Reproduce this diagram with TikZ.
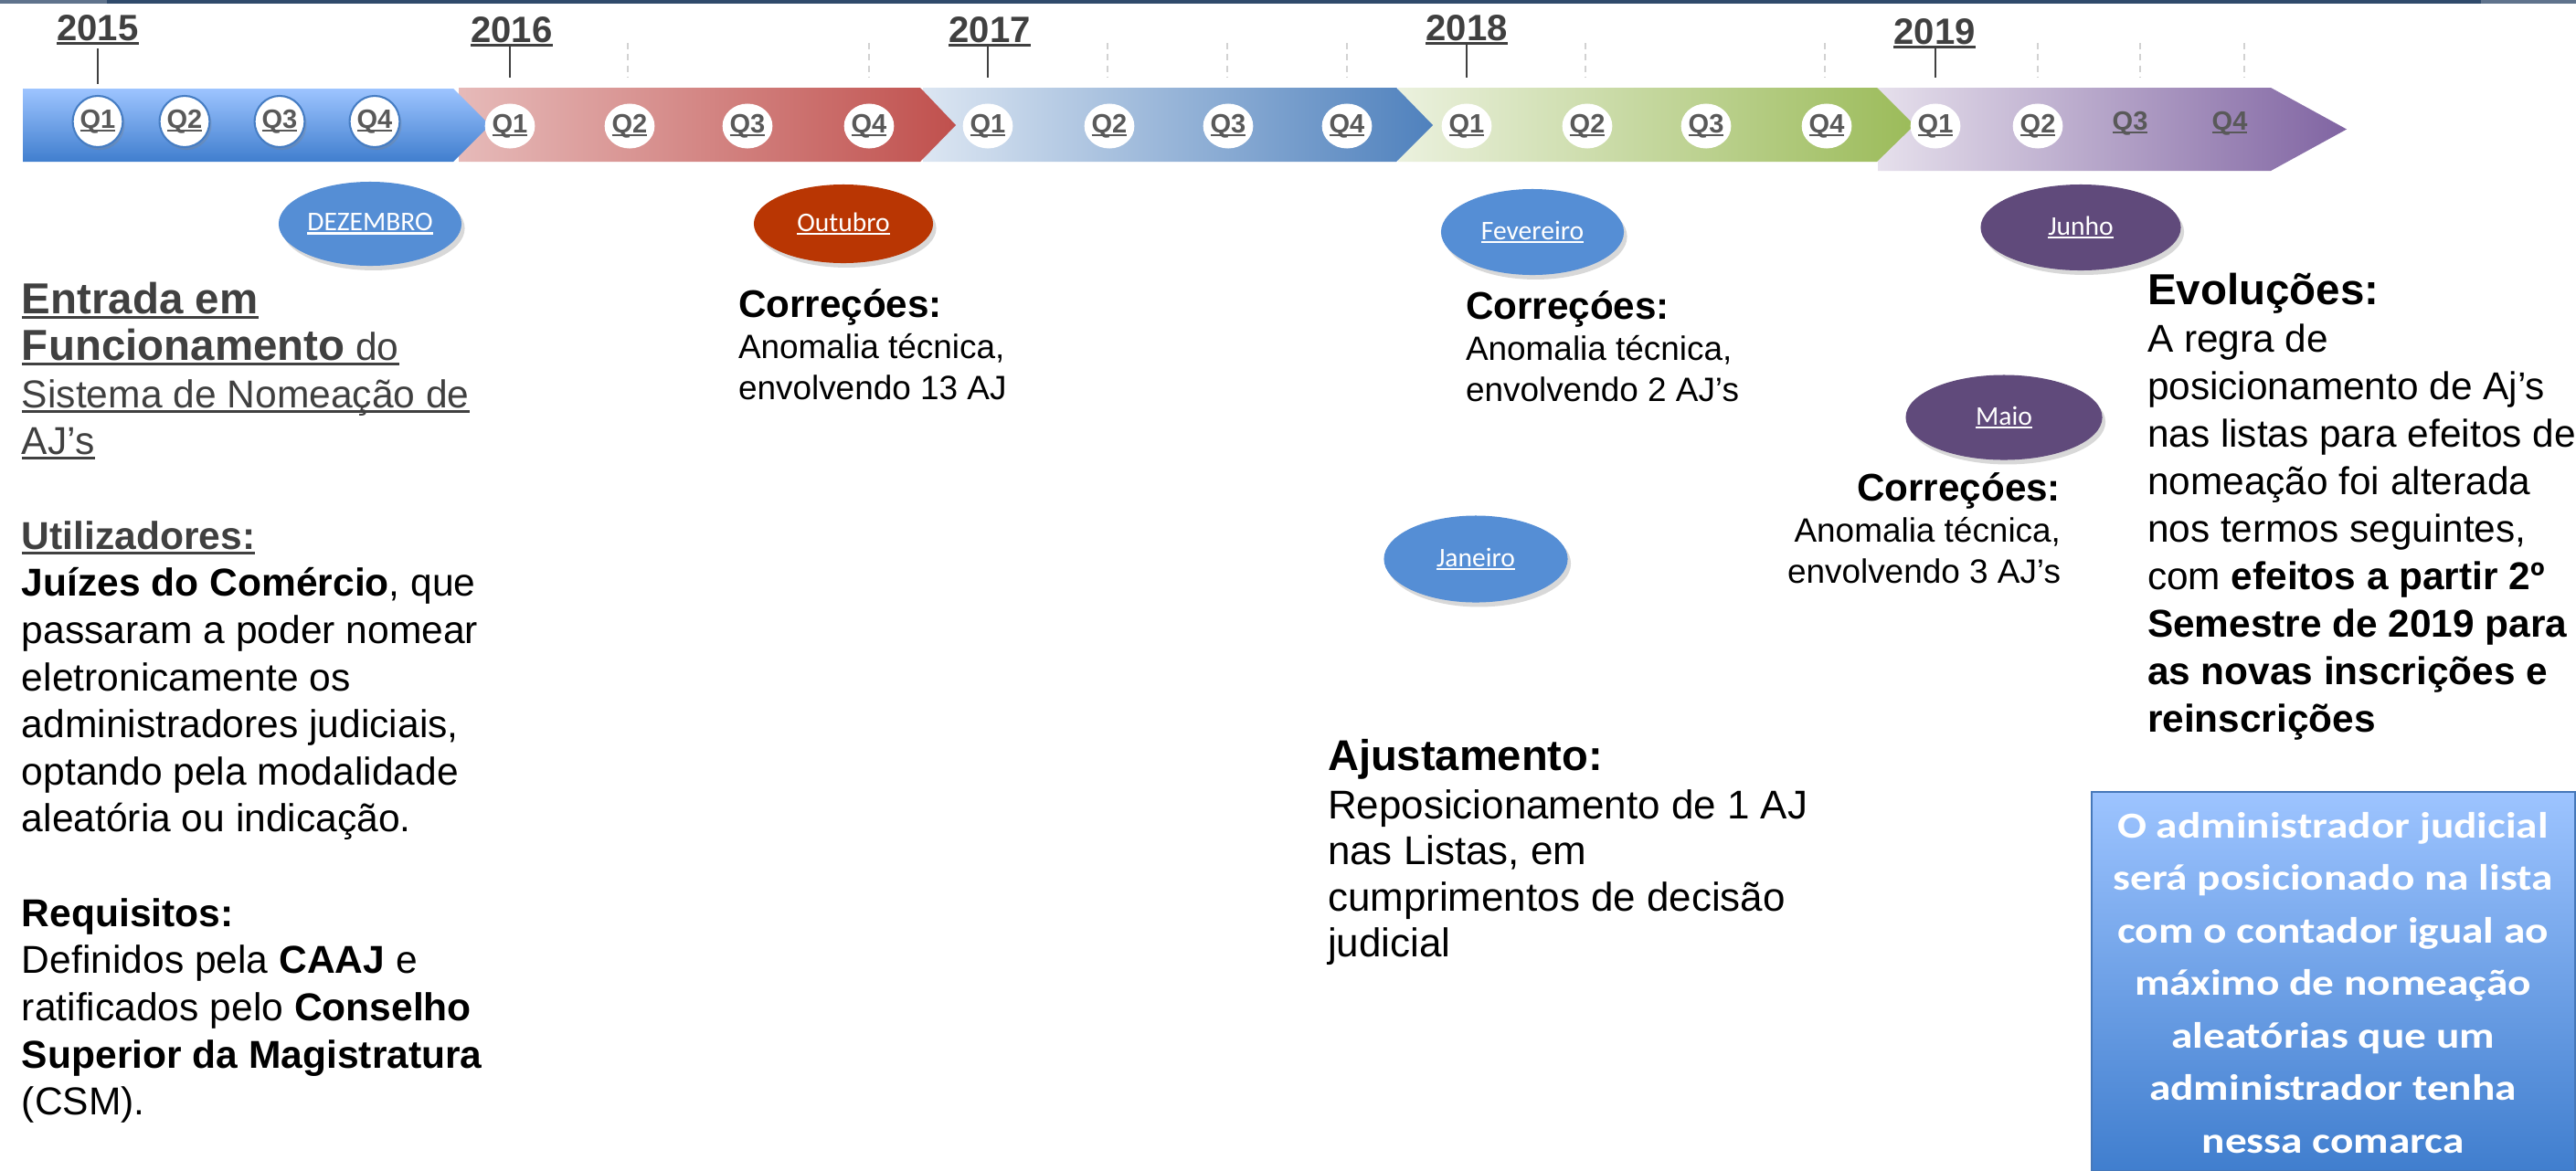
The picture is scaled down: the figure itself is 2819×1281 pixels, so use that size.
\documentclass[tikz,border=0pt]{standalone}
\usepackage{fontspec}
\setmainfont{Liberation Sans}
\newfontfamily\calib{Carlito}
\newfontfamily\boxfont{Carlito}[FakeStretch=1.18]
\usetikzlibrary{shapes.geometric,shadows}

\definecolor{navy}{RGB}{47,74,107}
\definecolor{navylt}{RGB}{95,115,140}
\definecolor{txtgray}{RGB}{64,64,64}
\definecolor{qgray}{RGB}{89,89,89}
\definecolor{tickgray}{RGB}{210,210,210}
\definecolor{mblue}{RGB}{85,142,213}
\definecolor{morange}{RGB}{185,54,3}
\definecolor{mpurple}{RGB}{96,74,123}
\definecolor{sAtop}{RGB}{157,196,255}
\definecolor{sAbot}{RGB}{64,126,206}
\definecolor{sBl}{RGB}{230,186,185}
\definecolor{sBm}{RGB}{220,165,164}
\definecolor{sBr}{RGB}{192,80,77}
\definecolor{sCl}{RGB}{220,230,242}
\definecolor{sCm}{RGB}{180,198,226}
\definecolor{sCr}{RGB}{79,129,189}
\definecolor{sDl}{RGB}{235,241,222}
\definecolor{sDm}{RGB}{215,228,192}
\definecolor{sDr}{RGB}{155,187,89}
\definecolor{sEl}{RGB}{230,224,236}
\definecolor{sEm}{RGB}{200,188,215}
\definecolor{sEr}{RGB}{128,100,162}
\definecolor{qborder}{RGB}{70,125,195}
\definecolor{boxborder}{RGB}{70,120,185}

\newcommand\fs[2]{\fontsize{#1}{#2}\selectfont}
\newcommand\myul[1]{\setbox0=\hbox{#1}\rlap{\rule[-0.13em]{\wd0}{0.07em}}\box0}
\newcommand\Lft[1]{\vtop{\halign{##\hfil\cr#1\crcr}}}
\newcommand\Rgt[1]{\vtop{\halign{\hfil##\cr#1\crcr}}}
\newcommand\Ctr[1]{\vtop{\halign{\hfil##\hfil\cr#1\crcr}}}

\tikzset{
  txt/.style={anchor=base west, inner sep=0pt, outer sep=0pt},
  yearlab/.style={anchor=base, inner sep=0pt, text=txtgray, font=\fs{11.4}{13}\bfseries},
  yeartick/.style={draw=txtgray, line width=0.75pt},
  qtick/.style={draw=tickgray, line width=0.5pt, dash pattern=on 2pt off 1.5pt},
  qlabel/.style={inner sep=0pt, text=qgray, font=\fs{8.25}{9}\bfseries},
  qcircA/.style={ellipse, qlabel, fill=white, draw=qborder, line width=0.6pt,
     minimum width=0.51cm, minimum height=0.56cm,
     drop shadow={opacity=0.3, shadow xshift=0.6pt, shadow yshift=-0.9pt}},
  qcirc/.style={ellipse, qlabel, fill=white, minimum width=0.40cm, minimum height=0.49cm},
  month/.style={ellipse, inner sep=0pt, text=white, font=\calib\fs{8.4}{10},
     drop shadow={opacity=0.3, shadow xshift=1.0pt, shadow yshift=-1.4pt}},
}

\begin{document}
\begin{tikzpicture}[x=0.01cm, y=-0.01cm]
\useasboundingbox (0,0) rectangle (2819,1281);
\fill[white] (0,0) rectangle (2819,1281);
% top strip
\fill[navy] (0,0) rectangle (2819,4);
\fill[navylt] (0,0) rectangle (117,4);
\fill[navylt] (2715,0) rectangle (2819,4);

% timeline segments (later ones first)
\shade[left color=sEl, middle color=sEm, right color=sEr]
  (2055,96) -- (2485,96) -- (2568,141.5) -- (2485,187) -- (2055,187) -- cycle;
\shade[left color=sDl, middle color=sDm, right color=sDr]
  (1530,96) -- (2054,96) -- (2095,137) -- (2054,177) -- (1530,177) -- cycle;
\shade[left color=sCl, middle color=sCm, right color=sCr]
  (1010,96) -- (1528,96) -- (1568,137) -- (1528,177) -- (1010,177) -- cycle;
\shade[left color=sBl, middle color=sBm, right color=sBr]
  (502,96) -- (1007,96) -- (1046,137) -- (1007,177) -- (502,177) -- cycle;
\shade[top color=sAtop, bottom color=sAbot]
  (25,97) -- (496,97) -- (536,137) -- (496,177) -- (25,177) -- cycle;

% year labels and ticks
\node[yearlab] (y2015) at (107,44) {\myul{2015}};
\node[yearlab] (y2016) at (560,46) {\myul{2016}};
\node[yearlab] (y2017) at (1083,46) {\myul{2017}};
\node[yearlab] (y2018) at (1605,44) {\myul{2018}};
\node[yearlab] (y2019) at (2117,48) {\myul{2019}};
\coordinate (t15a) at (107,53);  \coordinate (t15b) at (107,92);
\coordinate (t16a) at (558,49);  \coordinate (t16b) at (558,85);
\coordinate (t17a) at (1081,49); \coordinate (t17b) at (1081,85);
\coordinate (t18a) at (1605,49); \coordinate (t18b) at (1605,85);
\coordinate (t19a) at (2118,50); \coordinate (t19b) at (2118,85);
\draw[yeartick] (t15a) -- (t15b);
\draw[yeartick] (t16a) -- (t16b);
\draw[yeartick] (t17a) -- (t17b);
\draw[yeartick] (t18a) -- (t18b);
\draw[yeartick] (t19a) -- (t19b);

% dashed quarter ticks
\foreach \xx [count=\i] in {687,951,1212,1343,1474,1735,1997,2230,2342,2456}{
  \coordinate (dqa\i) at (\xx,47);
  \coordinate (dqb\i) at (\xx,85);
  \draw[qtick] (dqa\i) -- (dqb\i);
}

% quarter markers
\node[qcircA] (q15a) at (107,133) {\myul{Q1}};
\node[qcircA] (q15b) at (202,133) {\myul{Q2}};
\node[qcircA] (q15c) at (306,133) {\myul{Q3}};
\node[qcircA] (q15d) at (410,133) {\myul{Q4}};
\node[qcirc] (q16a) at (558,138) {\myul{Q1}};
\node[qcirc] (q16b) at (689,138) {\myul{Q2}};
\node[qcirc] (q16c) at (818,138) {\myul{Q3}};
\node[qcirc] (q16d) at (951,138) {\myul{Q4}};
\node[qcirc] (q17a) at (1081,138) {\myul{Q1}};
\node[qcirc] (q17b) at (1214,138) {\myul{Q2}};
\node[qcirc] (q17c) at (1344,138) {\myul{Q3}};
\node[qcirc] (q17d) at (1474,138) {\myul{Q4}};
\node[qcirc] (q18a) at (1605,138) {\myul{Q1}};
\node[qcirc] (q18b) at (1737,138) {\myul{Q2}};
\node[qcirc] (q18c) at (1867,138) {\myul{Q3}};
\node[qcirc] (q18d) at (1999,138) {\myul{Q4}};
\node[qcirc] (q19a) at (2118,138) {\myul{Q1}};
\node[qcirc] (q19b) at (2230,138) {\myul{Q2}};
\node[qlabel] (q19c) at (2331,135) {\myul{Q3}};
\node[qlabel] (q19d) at (2440,135) {\myul{Q4}};

% month ellipses
\node[month, fill=mblue, minimum width=2.00cm, minimum height=0.92cm] (dez) at (405,245) {\myul{DEZEMBRO}};
\node[month, fill=morange, minimum width=1.96cm, minimum height=0.86cm] (outu) at (923,245) {\myul{Outubro}};
\node[month, fill=mblue, minimum width=2.00cm, minimum height=0.94cm] (fev) at (1677,254) {\myul{Fevereiro}};
\node[month, fill=mpurple, minimum width=2.19cm, minimum height=0.94cm] (jun) at (2277,249) {\myul{Junho}};
\node[month, fill=mpurple, minimum width=2.15cm, minimum height=0.93cm] (mai) at (2193,457) {\myul{Maio}};
\node[month, fill=mblue, minimum width=2.01cm, minimum height=0.95cm] (jan) at (1615,612) {\myul{Janeiro}};

% left text block
\node[txt, font=\fs{12.1}{14.68}] (leftblk) at (24,343) {\Lft{%
{\color{txtgray}\fs{13.5}{14.68}\bfseries\myul{Entrada em}}\cr
{\color{txtgray}\myul{{\fs{13.5}{14.68}\bfseries Funcionamento} do}}\cr
{\color{txtgray}\myul{Sistema de Nomeação de}}\cr
{\color{txtgray}\myul{AJ’s}}\cr
\mbox{}\cr
{\color{txtgray}\bfseries\myul{Utilizadores:}}\cr
\textbf{Juízes do Comércio}, que\cr
passaram a poder nomear\cr
eletronicamente os\cr
administradores judiciais,\cr
optando pela modalidade\cr
aleatória ou indicação.\cr
\mbox{}\cr
\textbf{Requisitos:}\cr
Definidos pela \textbf{CAAJ} e\cr
ratificados pelo \textbf{Conselho}\cr
\textbf{Superior da Magistratura}\cr
(CSM).}};

% correction blocks
\node[txt, font=\fs{10.5}{12.8}] (outtxt) at (808,347) {\Lft{%
{\fs{12}{12.8}\bfseries Correçóes:}\cr
Anomalia técnica,\cr
envolvendo 13 AJ}};
\node[txt, font=\fs{10.5}{12.8}] (fevtxt) at (1604,349) {\Lft{%
{\fs{12}{12.8}\bfseries Correçóes:}\cr
Anomalia técnica,\cr
envolvendo 2 AJ’s}};
\node[txt, anchor=base east, font=\fs{10.5}{12.8}] (maitxt) at (2255,548) {\Rgt{%
{\fs{12}{12.8}\bfseries Correçóes:}\cr
Anomalia técnica,\cr
envolvendo 3 AJ’s}};

% ajustamento block
\node[txt, font=\fs{12.5}{14.23}] (ajtxt) at (1453,843) {\Lft{%
{\fs{13.4}{14.23}\bfseries Ajustamento:}\cr\noalign{\vskip1.1pt}
Reposicionamento de 1 AJ\cr
nas Listas, em\cr
cumprimentos de decisão\cr
judicial}};

% evolucoes block
\node[txt, font=\fs{12.05}{14.8}] (evtxt) at (2350,333) {\Lft{%
{\fs{13.5}{14.8}\bfseries Evoluções:}\cr
A regra de\cr
posicionamento de Aj’s\cr
nas listas para efeitos de\cr
nomeação foi alterada\cr
nos termos seguintes,\cr
com \textbf{efeitos a partir 2º}\cr
\textbf{Semestre de 2019 para}\cr
\textbf{as novas inscrições e}\cr
\textbf{reinscrições}}};

% rule box
\node[draw=boxborder, line width=0.6pt, top color=sAtop, bottom color=sAbot,
      minimum width=5.29cm, minimum height=4.15cm, anchor=north west, inner sep=0pt] (rulebox) at (2288,866) {};
\node[anchor=base, inner sep=0pt, text=white, font=\boxfont\bfseries\fs{11.4}{16.36}] (ruletxt) at (2553,917) {\Ctr{%
O administrador judicial\cr
será posicionado na lista\cr
com o contador igual ao\cr
máximo de nomeação\cr
aleatórias que um\cr
administrador tenha\cr
nessa comarca}};
\end{tikzpicture}
\end{document}
